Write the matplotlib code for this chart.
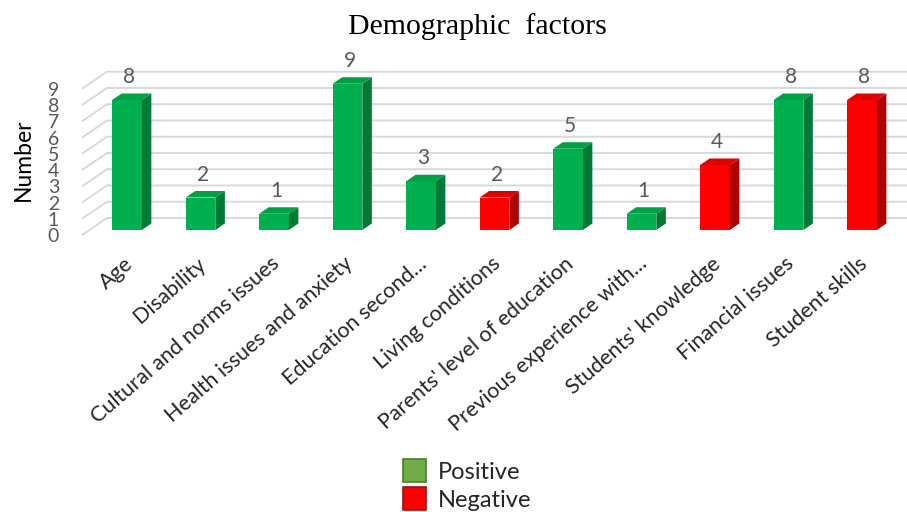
import matplotlib
matplotlib.use("Agg")
import matplotlib.pyplot as plt
from matplotlib.patches import Polygon, Patch

categories = ["Age", "Disability", "Cultural and norms issues", "Health issues and anxiety",
              "Education second...", "Living conditions", "Parents' level of education",
              "Previous experience with...", "Students' knowledge", "Financial issues",
              "Student skills"]
values = [8, 2, 1, 9, 3, 2, 5, 1, 4, 8, 8]
kinds = ["Positive", "Positive", "Positive", "Positive", "Positive", "Negative",
         "Positive", "Positive", "Negative", "Positive", "Negative"]
y_ticks = list(range(10))

# colours for the fake 3d faces: front, side, top
faces = {
    "Positive": ("#00b050", "#007a36", "#00a044"),
    "Negative": ("#ff0000", "#b00000", "#e00000"),
}

# pixel layout of the original picture (907 x 512)
W, H = 907, 512
PX_CAT, PX_VAL = 73.5, 16.25     # px per category / per unit
X0, Y0 = 127, 230                # px of first bar centre / value 0
BAR_W = 0.404
DX, DY = 9.5 / PX_CAT, 6.5 / PX_VAL           # bar depth
FRONT = (-0.612, -0.31)                      # front end of the floor lines
BACK = (-0.272, 0.74)                        # back wall corner

fig = plt.figure(figsize=(W / 100, H / 100), dpi=100)
ax = fig.add_axes([0, 0, 1, 1])
ax.set_xlim(-X0 / PX_CAT, (W - X0) / PX_CAT)
ax.set_ylim((Y0 - H) / PX_VAL, Y0 / PX_VAL)
ax.axis("off")

font = ["Lato", "DejaVu Sans"]

# grid: diagonal on the left side wall, then horizontal along the back wall
for v in y_ticks:
    xs = [FRONT[0], BACK[0], 12]
    ys = [v + FRONT[1], v + BACK[1], v + BACK[1]]
    ax.plot(xs, ys, color="#d9d9d9", lw=1.4, zorder=1, solid_capstyle="butt")
    ax.text(FRONT[0] - 0.39, v + FRONT[1] - 0.1, str(v), ha="center", va="center",
            fontsize=14, color="#595959", family=font)

x = list(range(len(values)))
front_cols = [faces[k][0] for k in kinds]
ax.bar(x, values, width=BAR_W, color=front_cols, zorder=3)

for i, v in enumerate(values):
    _, side, top = faces[kinds[i]]
    l, r = i - BAR_W / 2, i + BAR_W / 2
    ax.add_patch(Polygon([(r, 0), (r + DX, DY), (r + DX, v + DY), (r, v)],
                         closed=True, fc=side, ec="none", zorder=3))
    ax.add_patch(Polygon([(l, v), (r, v), (r + DX, v + DY), (l + DX, v + DY)],
                         closed=True, fc=top, ec="none", zorder=3))
    ax.text(i + 0.03, v + 1.4, str(v), ha="center", va="center",
            fontsize=15, color="#595959", family=font)
    ax.text(i - 0.05, -1.45, categories[i], rotation=41, rotation_mode="anchor",
            ha="right", va="top", fontsize=15.5, color="#262626", family=font)

fig.text(477 / W, 1 - 27 / H, "Demographic  factors", ha="center", va="center",
         fontsize=21.5, family="Liberation Serif", color="black")
fig.text(23 / W, 1 - 160 / H, "Number", rotation=90, ha="center", va="center",
         fontsize=16.5, family=font, color="black")

handles = [Patch(fc="#70ad47", ec="#4f7a30", lw=1.2, label="Positive"),
           Patch(fc="#ff0000", ec="#8b1a1a", lw=1.2, label="Negative")]
leg = fig.legend(handles=handles, loc="center", bbox_to_anchor=(467 / W, 1 - 485 / H),
                 frameon=False, handlelength=1.0, handleheight=1.1, handletextpad=0.5,
                 labelspacing=0.2, prop={"family": font, "size": 17})
for t in leg.get_texts():
    t.set_color("#262626")

fig.savefig("out.png", dpi=100)
